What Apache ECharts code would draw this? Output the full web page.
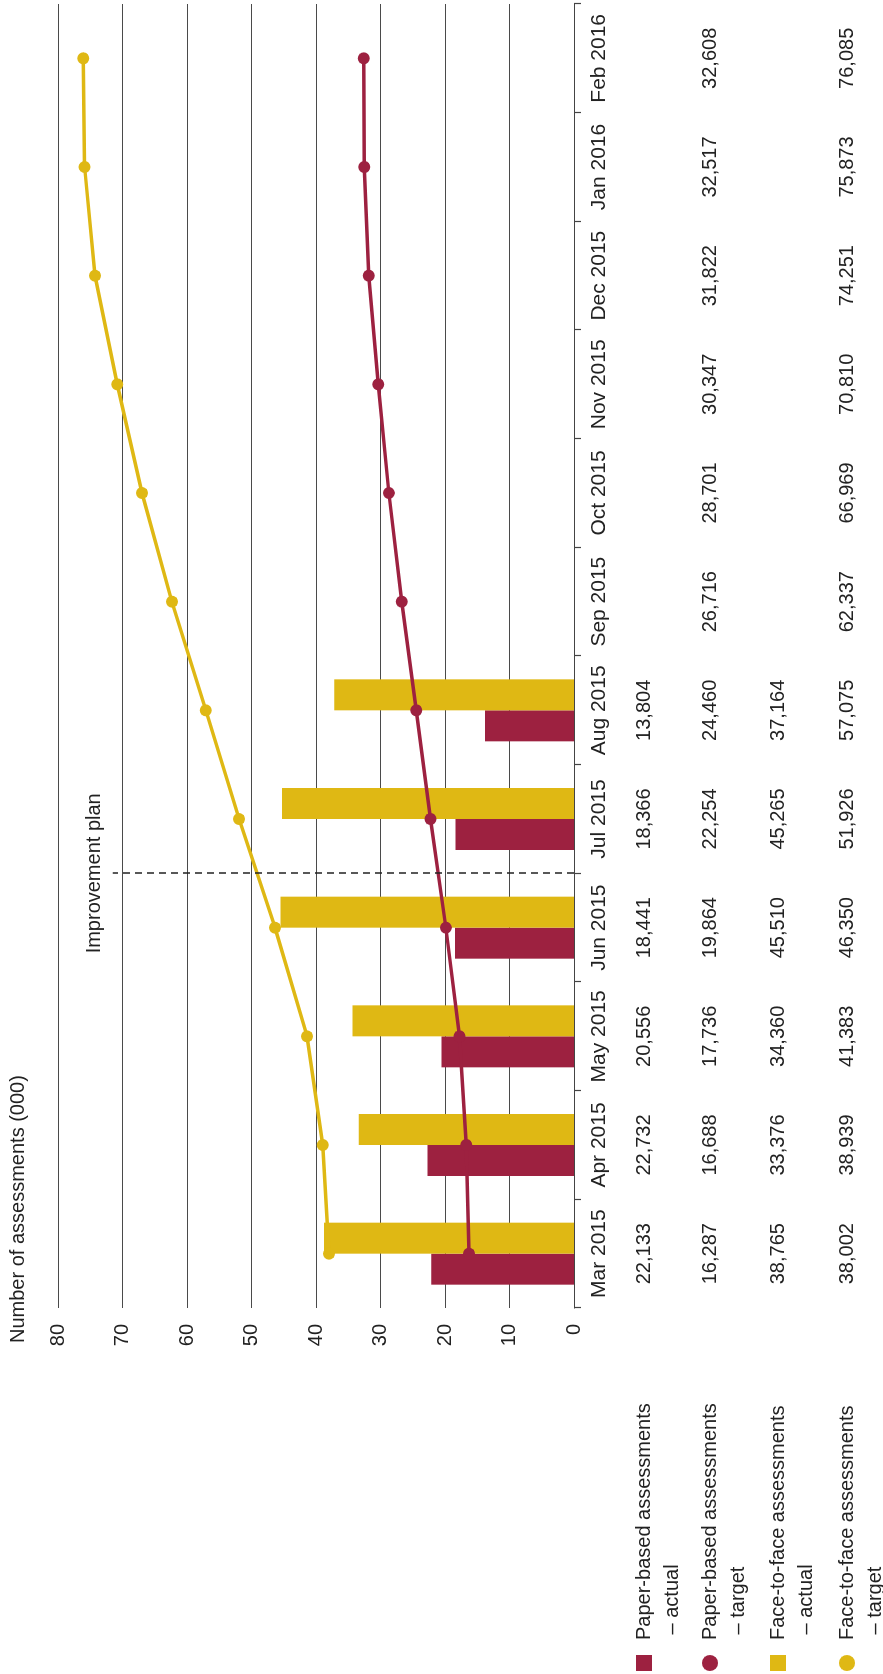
<!DOCTYPE html>
<html>
<head>
<meta charset="utf-8">
<script src="https://cdn.jsdelivr.net/npm/echarts@6/dist/echarts.min.js"></script>
<style>
  html, body { margin: 0; padding: 0; background: #fff; overflow: hidden; }
  body { width: 883px; height: 1674px; position: relative; }
  /* the chart is laid out landscape and turned a quarter turn to read bottom-to-top */
  #chart {
    position: absolute; left: 0; top: 0;
    width: 1674px; height: 883px;
    transform-origin: 0 0;
    transform: translate(0, 1674px) rotate(-90deg);
  }
</style>
</head>
<body>
<div id="chart"></div>
<script>
// Monthly assessments, Mar 2015 – Feb 2016 (raw counts)
const months = ['Mar 2015', 'Apr 2015', 'May 2015', 'Jun 2015', 'Jul 2015', 'Aug 2015',
                'Sep 2015', 'Oct 2015', 'Nov 2015', 'Dec 2015', 'Jan 2016', 'Feb 2016'];
const paperActual = [22133, 22732, 20556, 18441, 18366, 13804, null, null, null, null, null, null];
const paperTarget = [16287, 16688, 17736, 19864, 22254, 24460, 26716, 28701, 30347, 31822, 32517, 32608];
const faceActual  = [38765, 33376, 34360, 45510, 45265, 37164, null, null, null, null, null, null];
const faceTarget  = [38002, 38939, 41383, 46350, 51926, 57075, 62337, 66969, 70810, 74251, 75873, 76085];

const seriesNames = [
  'Paper-based assessments – actual',
  'Paper-based assessments – target',
  'Face-to-face assessments – actual',
  'Face-to-face assessments – target'
];
const valueMax = 80;
const valueStep = 10;
const planBoundary = 4;     // between Jun 2015 and Jul 2015
const planLineTop = 71.5;   // thousands

const CRIMSON = '#9d2140';
const GOLD = '#dfb814';
const TEXT = '#222';
const FONT = '"Liberation Sans", Arial, Helvetica, sans-serif';

const toK = arr => arr.map(v => v == null ? null : v / 1000);
const fmt = v => v == null ? '' : v.toLocaleString('en-US');

// data table rows under the month axis
const tableRows = [paperActual, paperTarget, faceActual, faceTarget];
const rowCentres = [644, 710, 778, 847];
const tableAxes = tableRows.map((row, i) => ({
  type: 'category',
  gridIndex: 0,
  position: 'bottom',
  data: months,
  offset: rowCentres[i] - 599,
  axisLine: { show: false },
  axisTick: { show: false },
  splitLine: { show: false },
  axisLabel: {
    interval: 0, margin: 15, fontSize: 20, color: TEXT, fontFamily: FONT,
    formatter: (val, idx) => fmt(row[idx])
  }
}));

// one legend per row so each key sits level with its table row;
// an empty leading line keeps the marker level with the first text line
const legendRich = {
  e: { fontSize: 20, lineHeight: 28, fontFamily: FONT },
  g: { width: 10, lineHeight: 28 },
  t: { fontSize: 20, lineHeight: 28, color: TEXT, fontFamily: FONT }
};
const legends = seriesNames.map((name, i) => ({
  orient: 'vertical',
  left: 3,
  top: rowCentres[i] - 42,
  padding: 0,
  itemWidth: 16,
  itemHeight: 16,
  selectedMode: false,
  data: [{ name: name, icon: i % 2 ? 'circle' : 'rect' }],
  formatter: n => {
    const parts = n.split(' – ');
    return '{e| }\n{g|}{t|' + parts[0] + '}\n{g|}{t| – ' + parts[1] + '}';
  },
  textStyle: { fontSize: 20, lineHeight: 28, color: TEXT, fontFamily: FONT, rich: legendRich }
}));

const chart = echarts.init(document.getElementById('chart'), null, { renderer: 'canvas' });
chart.setOption({
  animation: false,
  backgroundColor: '#fff',
  textStyle: { fontFamily: FONT },
  title: {
    text: 'Number of assessments (000)',
    left: 331, top: 8, padding: 0,
    textStyle: { fontSize: 20, fontWeight: 'normal', color: TEXT, fontFamily: FONT }
  },
  legend: legends,
  grid: { left: 366, right: 4, top: 58, bottom: 309, containLabel: false },
  xAxis: [
    {
      type: 'category',
      data: months,
      boundaryGap: true,
      axisLine: { lineStyle: { color: '#444', width: 1.2 } },
      axisTick: { show: true, length: 7, lineStyle: { color: '#444', width: 1.2 } },
      axisLabel: { interval: 0, margin: 15, fontSize: 21, color: TEXT, fontFamily: FONT },
      splitLine: { show: false }
    },
    ...tableAxes,
    { type: 'value', gridIndex: 0, min: 0, max: months.length, show: false }
  ],
  yAxis: {
    type: 'value',
    min: 0, max: valueMax, interval: valueStep,
    axisLine: { show: false },
    axisTick: { show: false },
    axisLabel: { margin: 16, fontSize: 20, color: TEXT, fontFamily: FONT },
    splitLine: { show: true, lineStyle: { color: '#4a4a4a', width: 1 } }
  },
  series: [
    {
      name: seriesNames[0], type: 'bar', xAxisIndex: 0,
      data: toK(paperActual), barWidth: 31, barGap: '0%',
      itemStyle: { color: CRIMSON }
    },
    {
      name: seriesNames[2], type: 'bar', xAxisIndex: 0,
      data: toK(faceActual), barWidth: 31, barGap: '0%',
      itemStyle: { color: GOLD }
    },
    {
      name: seriesNames[1], type: 'line', xAxisIndex: 0,
      data: toK(paperTarget), symbol: 'circle', symbolSize: 12,
      lineStyle: { color: CRIMSON, width: 3.5 }, itemStyle: { color: CRIMSON }, z: 3
    },
    {
      name: seriesNames[3], type: 'line', xAxisIndex: 0,
      data: toK(faceTarget), symbol: 'circle', symbolSize: 12,
      lineStyle: { color: GOLD, width: 3.5 }, itemStyle: { color: GOLD }, z: 3
    },
    {
      // improvement-plan marker at the Jun/Jul boundary
      type: 'line', xAxisIndex: tableAxes.length + 1, yAxisIndex: 0,
      data: [[planBoundary, 0]], symbol: 'none', lineStyle: { width: 0 }, silent: true,
      markLine: {
        silent: true,
        symbol: ['none', 'none'],
        lineStyle: { type: [7, 5], color: '#222', width: 1.5 },
        label: { show: true, position: 'end', distance: 8, formatter: 'Improvement plan',
                 fontSize: 20, color: TEXT, fontFamily: FONT },
        data: [[{ coord: [planBoundary, 0] }, { coord: [planBoundary, planLineTop] }]]
      }
    }
  ]
});
</script>
</body>
</html>
